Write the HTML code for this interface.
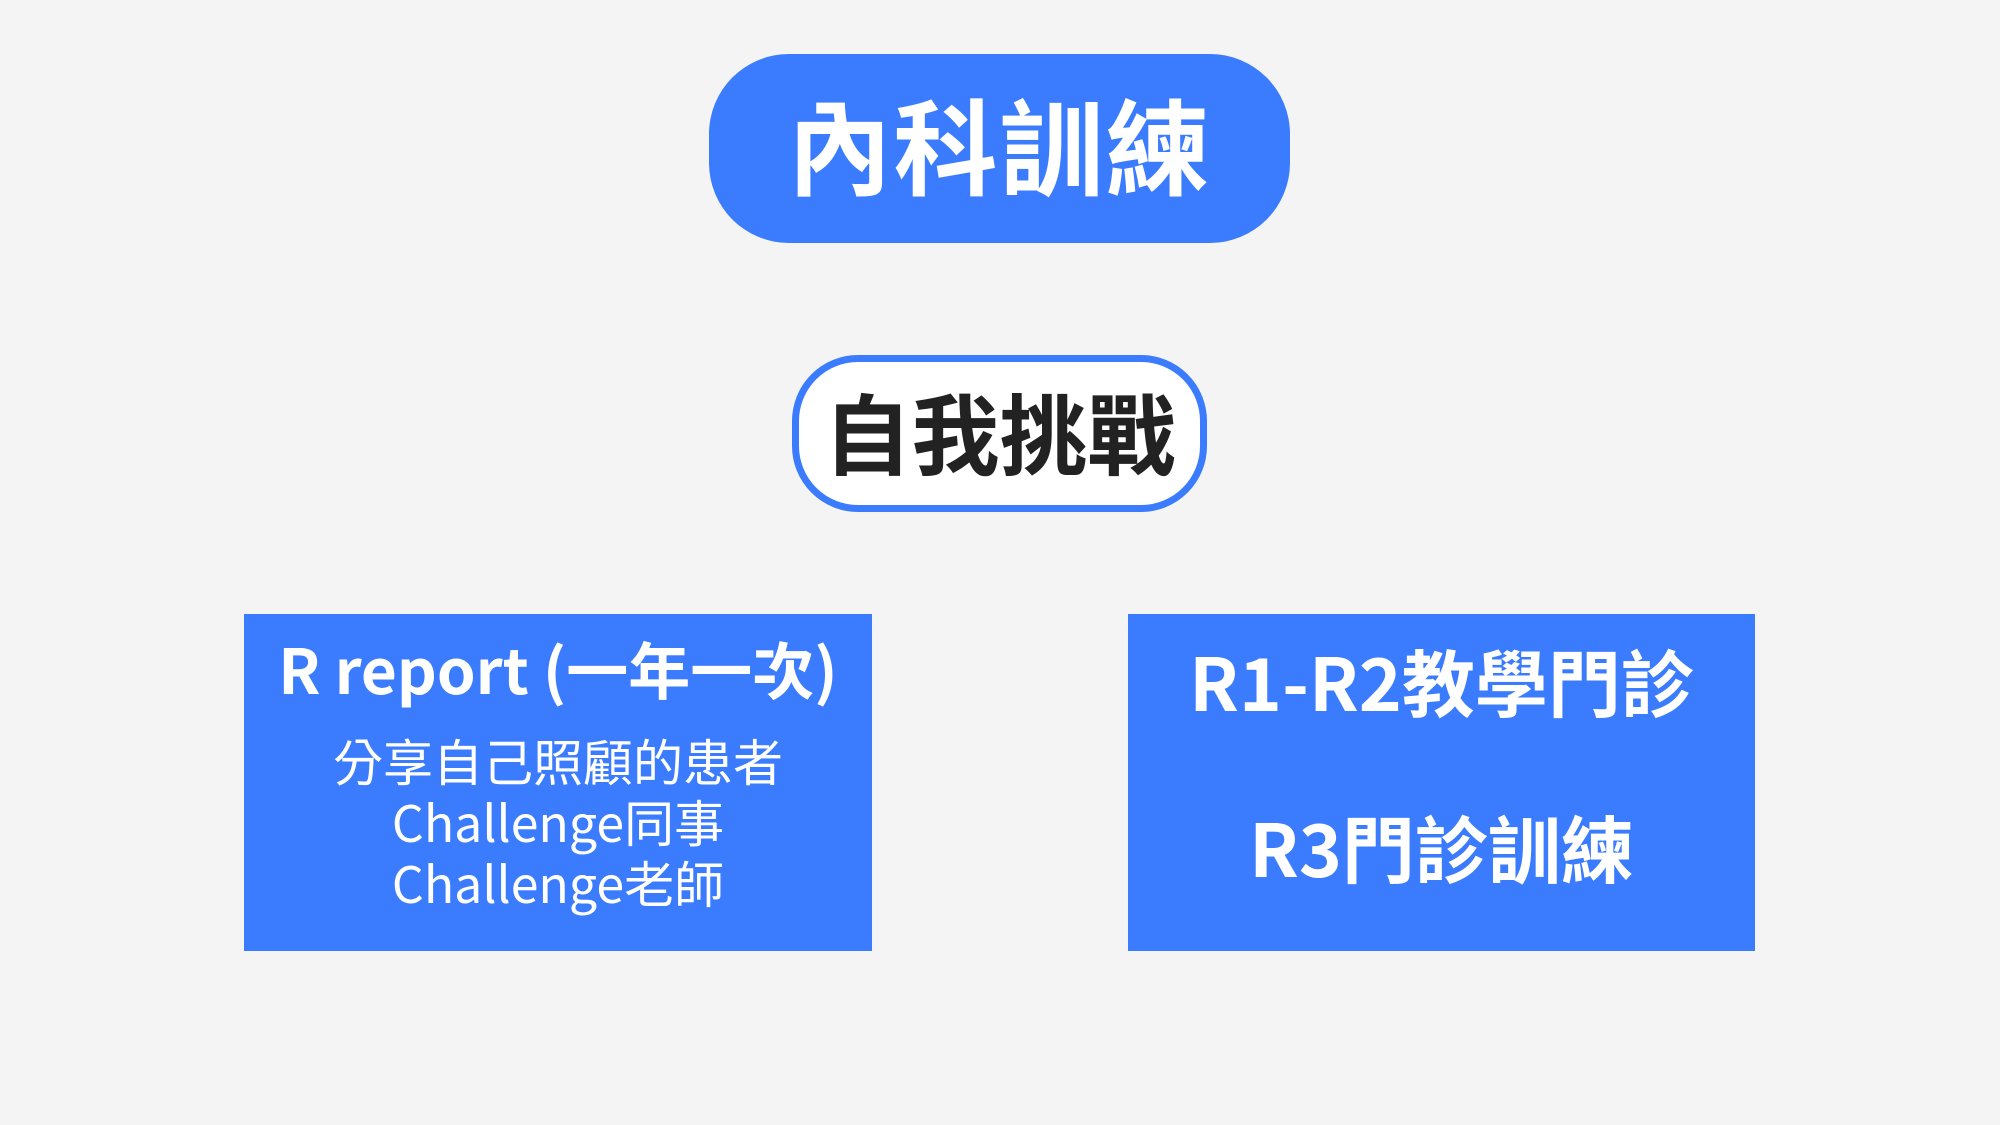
<!DOCTYPE html>
<html><head><meta charset="utf-8"><style>
body{margin:0;width:2000px;height:1125px;background:#f4f4f4;position:relative;overflow:hidden;font-family:"Noto Sans CJK TC","Liberation Sans",sans-serif}
.a{position:absolute;box-sizing:border-box;display:flex;align-items:center;justify-content:center;text-align:center}
.p1{left:709px;top:54px;width:581px;height:189px;border-radius:80px;background:#3b7cff;color:#fff;font-weight:bold;font-size:104px;letter-spacing:2px;padding-bottom:14px}
.p2{left:792px;top:355px;width:415px;height:157px;border-radius:66px;background:#fff;border:7px solid #3b7cff;color:#222;font-weight:bold;font-size:88px;padding-bottom:6px}
.b{background:#3b7cff;color:#fff}
.t{position:absolute;left:0;right:0;text-align:center;white-space:nowrap;line-height:1}
</style></head><body>
<div class="a p1">內科訓練</div>
<div class="a p2">自我挑戰</div>
<div class="a b" style="left:244px;top:614px;width:628px;height:337px"></div>
<div class="t" style="left:244px;width:628px;top:636px;font-size:62px;font-weight:bold;color:#fff">R report (一年一次)</div>
<div class="t" style="left:244px;width:628px;top:730px;font-size:50px;color:#fff;line-height:61px">分享自己照顧的患者<br>Challenge同事<br>Challenge老師</div>
<div class="a b" style="left:1128px;top:614px;width:627px;height:337px"></div>
<div class="t" style="left:1128px;width:627px;top:644px;font-size:73px;font-weight:bold;color:#fff">R1-R2教學門診</div>
<div class="t" style="left:1128px;width:627px;top:810px;font-size:73px;font-weight:bold;color:#fff">R3門診訓練</div>
</body></html>
